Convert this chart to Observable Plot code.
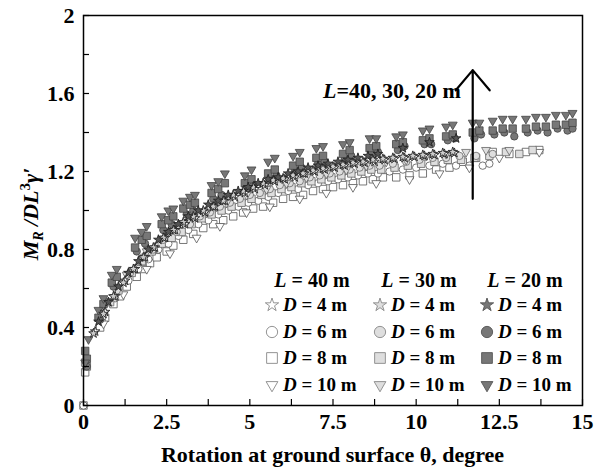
<!DOCTYPE html>
<html><head><meta charset="utf-8">
<script src="https://cdn.jsdelivr.net/npm/d3@7"></script>
<script src="https://cdn.jsdelivr.net/npm/@observablehq/plot@0.6"></script>
<style>
body{margin:0;background:#fff;}
#chart{position:relative;width:594px;height:474px;}
</style></head><body><div id="chart"></div>
<script>
// ---- axis ticks ----
const xTickValues = [0, 2.5, 5, 7.5, 10, 12.5, 15];
const xTickLabels = ["0", "2.5", "5", "7.5", "10", "12.5", "15"];
const xMinorTicks = [0, 1.25, 2.5, 3.75, 5, 6.25, 7.5, 8.75, 10, 11.25, 12.5, 13.75, 15];
const yTickValues = [0, 0.4, 0.8, 1.2, 1.6, 2];
const yTickLabels = ["0", "0.4", "0.8", "1.2", "1.6", "2"];
const yMinorTicks = [0, 0.2, 0.4, 0.6, 0.8, 1.0, 1.2, 1.4, 1.6, 1.8, 2.0];

// ---- series: [theta (deg), M_R/DL^3γ'] ----
// L = 40 m (white)
const L40_D8 = [[0,0],[0.05,0.17],[0.1,0.2],[0.5,0.40],[0.65,0.45],[0.9,0.52],[1.1,0.56],[1.3,0.61],[1.6,0.66],[1.8,0.70],[2.0,0.73],[2.2,0.76],[2.5,0.79],[2.7,0.82],[3.0,0.85],[3.3,0.88],[3.6,0.91],[3.9,0.93],[4.2,0.95],[4.5,0.97],[4.8,0.99],[5.1,1.01],[5.4,1.02],[5.7,1.04],[6.0,1.06],[6.3,1.07],[6.6,1.08],[6.9,1.10],[7.2,1.11],[7.5,1.12],[7.8,1.13],[8.1,1.14],[8.4,1.15],[8.7,1.16],[9.0,1.17],[9.4,1.17],[9.8,1.18],[10.2,1.19],[10.6,1.21],[11.0,1.22],[11.4,1.25],[11.8,1.27],[12.3,1.30],[12.8,1.29],[13.3,1.30],[13.7,1.31]];
const L40_D6 = [[0,0],[0.55,0.43],[0.95,0.55],[1.35,0.64],[1.65,0.70],[1.95,0.75],[2.25,0.80],[2.55,0.83],[2.85,0.87],[3.15,0.90],[3.45,0.93],[3.75,0.95],[4.05,0.98],[4.35,1.00],[4.65,1.02],[4.95,1.04],[5.25,1.05],[5.55,1.07],[5.85,1.09],[6.15,1.10],[6.45,1.11],[6.75,1.13],[7.05,1.14],[7.35,1.15],[7.65,1.16],[7.95,1.17],[8.25,1.18],[8.55,1.19],[8.85,1.19],[9.2,1.20],[9.6,1.21],[10.0,1.22],[10.4,1.23],[10.8,1.24],[11.2,1.23],[11.6,1.23],[12.0,1.23],[12.2,1.24]];
const L40_D10 = [[0.6,0.42],[1.2,0.57],[1.9,0.70],[2.6,0.78],[3.4,0.86],[4.1,0.92],[4.9,0.99],[5.6,1.02],[6.5,1.06],[7.3,1.09],[8.1,1.12],[8.8,1.14],[9.8,1.16],[10.7,1.19],[11.6,1.22],[12.5,1.27],[13.7,1.30]];
const L40_D4 = [[0.35,0.38],[0.65,0.48],[0.95,0.56],[1.25,0.64],[1.55,0.70],[1.85,0.76],[2.15,0.81],[2.45,0.86],[2.75,0.90],[3.05,0.93],[3.35,0.96],[3.65,0.99],[3.95,1.02],[4.25,1.05],[4.55,1.07],[4.85,1.09],[5.15,1.11],[5.45,1.13],[5.75,1.15],[6.05,1.16],[6.35,1.17],[6.65,1.19],[6.95,1.20],[7.25,1.21],[7.55,1.22],[7.85,1.23],[8.15,1.24],[8.45,1.245],[8.75,1.25],[9.05,1.26],[9.35,1.265],[9.65,1.27],[9.95,1.275],[10.25,1.28],[10.55,1.285],[10.85,1.29],[11.15,1.295]];
// L = 30 m (light grey)
const L30_D8 = [[0.05,0.22],[0.55,0.46],[0.8,0.53],[1.05,0.59],[1.45,0.68],[1.75,0.74],[2.05,0.79],[2.35,0.83],[2.65,0.86],[2.95,0.89],[3.25,0.93],[3.55,0.96],[3.85,0.98],[4.15,1.00],[4.45,1.02],[4.75,1.04],[5.05,1.06],[5.35,1.08],[5.65,1.09],[5.95,1.11],[6.25,1.12],[6.55,1.14],[6.85,1.15],[7.15,1.16],[7.45,1.17],[7.75,1.18],[8.05,1.19],[8.35,1.20],[8.65,1.21],[8.95,1.21],[9.35,1.22],[9.75,1.23],[10.15,1.24],[10.55,1.25],[10.95,1.26],[11.35,1.26],[11.75,1.27],[12.2,1.28],[12.7,1.30],[13.1,1.29],[13.5,1.31]];
const L30_D6 = [[0.6,0.48],[1.0,0.59],[1.4,0.68],[1.8,0.76],[2.1,0.80],[2.4,0.85],[2.8,0.89],[3.2,0.93],[3.5,0.97],[3.8,0.99],[4.1,1.02],[4.4,1.04],[4.7,1.06],[5.0,1.08],[5.3,1.09],[5.6,1.11],[5.9,1.13],[6.2,1.14],[6.5,1.15],[6.8,1.17],[7.1,1.18],[7.4,1.19],[7.7,1.20],[8.0,1.21],[8.3,1.22],[8.6,1.23],[8.9,1.23],[9.3,1.24],[9.7,1.25],[10.1,1.26],[10.5,1.27],[10.9,1.27],[11.3,1.28],[11.8,1.28],[12.3,1.29]];
const L30_D10 = [[0.7,0.53],[1.3,0.67],[1.9,0.79],[2.5,0.88],[3.1,0.94],[3.7,0.99],[4.3,1.04],[4.9,1.08],[5.5,1.11],[6.1,1.14],[6.7,1.17],[7.3,1.19],[7.9,1.21],[8.5,1.23],[9.1,1.25],[9.7,1.26],[10.3,1.28],[10.9,1.29],[11.5,1.30],[12.1,1.31],[12.8,1.31]];
const L30_D4 = [[0.3,0.37],[0.6,0.47],[0.9,0.56],[1.2,0.63],[1.5,0.70],[1.8,0.76],[2.1,0.81],[2.4,0.86],[2.7,0.90],[3.0,0.94],[3.3,0.97],[3.6,1.00],[3.9,1.02],[4.2,1.05],[4.5,1.08],[4.8,1.10],[5.1,1.12],[5.4,1.14],[5.7,1.155],[6.0,1.165],[6.3,1.18],[6.6,1.19],[6.9,1.205],[7.2,1.215],[7.5,1.225],[7.8,1.235],[8.1,1.245],[8.4,1.25],[8.7,1.26],[9.0,1.265],[9.3,1.27],[9.6,1.275],[9.9,1.28],[10.2,1.285],[10.5,1.29],[10.8,1.295],[11.1,1.30]];
// L = 20 m (dark grey)
const L20_D10 = [[0.05,0.22],[0.15,0.34],[0.45,0.49],[0.6,0.55],[0.85,0.67],[1.0,0.70],[1.55,0.86],[1.75,0.89],[1.9,0.92],[2.35,0.97],[2.55,1.00],[2.7,1.01],[3.0,1.05],[3.2,1.07],[3.35,1.08],[3.85,1.13],[4.05,1.15],[4.25,1.19],[4.85,1.18],[5.05,1.21],[5.55,1.25],[5.75,1.27],[6.3,1.28],[6.5,1.30],[7.0,1.32],[7.2,1.33],[7.8,1.34],[8.0,1.35],[8.6,1.37],[8.8,1.37],[9.4,1.38],[9.6,1.39],[10.2,1.41],[10.4,1.42],[10.9,1.43],[11.1,1.44],[11.7,1.45],[11.9,1.45],[12.3,1.46],[12.6,1.47],[12.9,1.47],[13.3,1.47],[13.6,1.48],[13.9,1.48],[14.2,1.49],[14.5,1.49],[14.7,1.50]];
const L20_D8 = [[0.05,0.28],[0.1,0.24],[0.45,0.45],[0.6,0.52],[0.85,0.63],[1.0,0.66],[1.55,0.81],[1.75,0.85],[1.9,0.87],[2.35,0.93],[2.55,0.95],[2.7,0.97],[3.0,1.01],[3.2,1.03],[3.35,1.04],[3.85,1.09],[4.05,1.11],[4.25,1.14],[4.85,1.14],[5.05,1.16],[5.55,1.19],[5.75,1.21],[6.3,1.23],[6.5,1.25],[7.0,1.27],[7.2,1.28],[7.8,1.29],[8.0,1.31],[8.6,1.32],[8.8,1.33],[9.4,1.34],[9.6,1.35],[10.2,1.36],[10.4,1.37],[10.9,1.38],[11.1,1.39],[11.7,1.40],[11.9,1.41],[12.3,1.41],[12.6,1.42],[12.9,1.42],[13.3,1.42],[13.6,1.43],[13.9,1.43],[14.2,1.44],[14.5,1.44],[14.7,1.45]];
const L20_D6 = [[0.1,0.2],[0.5,0.44],[0.9,0.61],[1.6,0.79],[1.85,0.83],[2.4,0.9],[2.65,0.93],[3.1,0.98],[3.3,1.0],[3.9,1.06],[4.15,1.08],[4.9,1.11],[5.1,1.13],[5.6,1.16],[5.8,1.18],[6.35,1.2],[6.55,1.22],[7.05,1.24],[7.25,1.25],[7.85,1.26],[8.05,1.28],[8.65,1.29],[8.85,1.3],[9.45,1.31],[9.65,1.33],[10.25,1.34],[10.45,1.34],[10.95,1.36],[11.15,1.37],[11.75,1.37],[11.95,1.39],[12.35,1.39],[12.65,1.40],[12.95,1.38],[13.35,1.40],[13.65,1.41],[13.95,1.40],[14.25,1.42],[14.55,1.41],[14.7,1.42]];
const L20_D4 = [[0.45,0.43],[0.75,0.53],[1.05,0.61],[1.35,0.68],[1.65,0.74],[1.95,0.80],[2.25,0.85],[2.55,0.89],[2.85,0.93],[3.15,0.97],[3.45,1.00],[3.75,1.03],[4.05,1.05],[4.35,1.08],[4.65,1.10],[4.95,1.12],[5.25,1.14],[5.55,1.16],[5.85,1.17],[6.15,1.19],[6.45,1.20],[6.75,1.22],[7.05,1.23],[7.35,1.24],[7.65,1.25],[7.95,1.26],[8.25,1.27],[8.55,1.28],[8.85,1.29],[9.6,1.32],[10.4,1.35],[11.2,1.37]];

// ---- legend / annotation text ----
const lengthNames = ["40", "30", "20"];
const diameterNames = ["4", "6", "8", "10"];
const annotationText = "=40, 30, 20 m";
const arrowData = [{x1: 11.7, y1: 1.06, x2: 11.7, y2: 1.72}];
const annotationPos = {x: 11.36, y: 1.575};

// ---- styles ----
const fills = {"40": "#ffffff", "30": "#dedede", "20": "#777777"};
const strokes = {"40": "#555555", "30": "#666666", "20": "#444444"};
const starFills = {"40": "#ffffff", "30": "#cccccc", "20": "#555555"};
const symbols = {"4": "star", "6": "circle", "8": "square", "10": "triangle"};
const radii = {"4": 3.0, "6": 3.7, "8": 4.2, "10": 3.3};

const seriesList = [
  {L: "40", D: "8", data: L40_D8}, {L: "40", D: "6", data: L40_D6}, {L: "40", D: "10", data: L40_D10},
  {L: "30", D: "8", data: L30_D8}, {L: "30", D: "6", data: L30_D6}, {L: "30", D: "10", data: L30_D10},
  {L: "20", D: "6", data: L20_D6}, {L: "20", D: "8", data: L20_D8}, {L: "20", D: "10", data: L20_D10},
  {L: "40", D: "4", data: L40_D4}, {L: "30", D: "4", data: L30_D4}, {L: "20", D: "4", data: L20_D4}
];

const dotMarks = seriesList.map(s => Plot.dot(s.data, {
  x: d => d[0], y: d => d[1],
  symbol: symbols[s.D], r: radii[s.D],
  rotate: s.D === "10" ? 180 : 0,
  fill: s.D === "4" ? starFills[s.L] : fills[s.L],
  stroke: s.D === "4" ? "#222222" : strokes[s.L],
  strokeWidth: s.D === "4" ? 0.9 : 0.8
}));

const plot = Plot.plot({
  width: 594, height: 474,
  marginLeft: 83, marginRight: 12, marginTop: 15, marginBottom: 69,
  style: {fontFamily: "'Liberation Serif', 'Times New Roman', serif", fontWeight: "bold", fontSize: "22px", color: "black", background: "white"},
  x: {domain: [0, 15]},
  y: {domain: [0, 2]},
  marks: [
    ...dotMarks,
    Plot.axisX({ticks: xMinorTicks, tickSize: -6, tickFormat: () => "", label: null, strokeWidth: 1.2}),
    Plot.axisX({ticks: xTickValues, tickSize: 0, tickPadding: 8, tickFormat: (d, i) => xTickLabels[i], label: null}),
    Plot.axisY({ticks: yMinorTicks, tickSize: -6, tickFormat: () => "", label: null, strokeWidth: 1.2}),
    Plot.axisY({ticks: yTickValues, tickSize: 0, tickPadding: 9, tickFormat: (d, i) => yTickLabels[i], label: null}),
    Plot.arrow(arrowData, {x1: "x1", y1: "y1", x2: "x2", y2: "y2", stroke: "black", strokeWidth: 2.2, headLength: 18, headAngle: 80}),
    Plot.frame({stroke: "black", strokeWidth: 1.5})
  ]
});
document.getElementById("chart").appendChild(plot);

const svg = d3.select(plot);
const xs = plot.scale("x"), ys = plot.scale("y");
const serif = "'Liberation Serif', 'Times New Roman', serif";

// x-axis title
svg.append("text")
  .attr("x", (xs.apply(0) + xs.apply(15)) / 2).attr("y", 462)
  .attr("text-anchor", "middle").attr("font-family", serif).attr("font-weight", "bold").attr("font-size", 22)
  .text("Rotation at ground surface θ, degree");

// y-axis title
const yt = svg.append("text")
  .attr("transform", `translate(38,${(ys.apply(0) + ys.apply(2)) / 2 + 4}) rotate(-90)`)
  .attr("text-anchor", "middle").attr("font-family", serif).attr("font-weight", "bold").attr("font-size", 22).attr("font-style", "italic");
yt.append("tspan").text("M");
yt.append("tspan").attr("font-size", 14).attr("dy", 5).text("R");
yt.append("tspan").attr("dy", -5).text(" /DL");
yt.append("tspan").attr("font-size", 15).attr("dy", -8).attr("font-style", "normal").text("3");
yt.append("tspan").attr("dy", 8).text("γ′");

// annotation
const at = svg.append("text")
  .attr("x", xs.apply(annotationPos.x)).attr("y", ys.apply(annotationPos.y))
  .attr("text-anchor", "end").attr("font-family", serif).attr("font-weight", "bold").attr("font-size", 22);
at.append("tspan").attr("font-style", "italic").text("L");
at.append("tspan").text(annotationText);

// legend
const colSym = [272, 380, 487];
const colHead = [312, 419, 525];
const rowY = [305, 332, 358, 385];
const lg = svg.append("g").attr("font-family", serif).attr("font-weight", "bold");
const d3sym = {"4": d3.symbolStar, "6": d3.symbolCircle, "8": d3.symbolSquare, "10": d3.symbolTriangle};
const lsize = {"4": 55, "6": 100, "8": 115, "10": 60};
lengthNames.forEach((L, c) => {
  const h = lg.append("text").attr("x", colHead[c]).attr("y", 287).attr("text-anchor", "middle").attr("font-size", 20);
  h.append("tspan").attr("font-style", "italic").text("L");
  h.append("tspan").text(` = ${L} m`);
  diameterNames.forEach((D, r) => {
    lg.append("path")
      .attr("d", d3.symbol(d3sym[D], lsize[D])())
      .attr("transform", `translate(${colSym[c]},${rowY[r]})` + (D === "10" ? " rotate(180)" : ""))
      .attr("fill", fills[L]).attr("stroke", L === "20" ? "#555" : "#888").attr("stroke-width", 0.9);
    const t = lg.append("text").attr("x", colSym[c] + 11).attr("y", rowY[r] + 6)
      .attr("text-anchor", "start").attr("font-size", 19);
    t.append("tspan").attr("font-style", "italic").text("D");
    t.append("tspan").text(` = ${D} m`);
  });
});
</script></body></html>
